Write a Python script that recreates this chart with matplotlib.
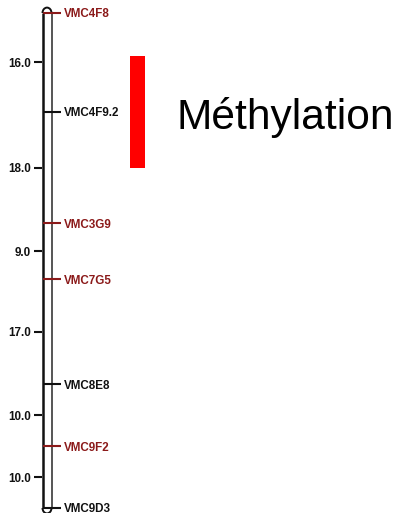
import matplotlib
matplotlib.use("Agg")
import matplotlib.pyplot as plt
from matplotlib.patches import Arc, Rectangle

plt.rcParams['font.family'] = ['Liberation Sans', 'DejaVu Sans']

# Data
markers = ["VMC4F8", "VMC4F9.2", "VMC3G9", "VMC7G5", "VMC8E8", "VMC9F2", "VMC9D3"]
intervals = [16.0, 18.0, 9.0, 17.0, 10.0, 10.0]
highlighted = [True, False, True, True, False, True, False]
qtl_name = "Méthylation"
qtl_start, qtl_end = 7.0, 25.0

positions = [0.0]
for d in intervals:
    positions.append(positions[-1] + d)
total = positions[-1]

W, H = 397, 513
fig = plt.figure(figsize=(W / 100, H / 100), dpi=100)
ax = fig.add_axes([0, 0, 1, 1])
px_per_cm = 495 / total
top_px = 13
ax.set_xlim(0, W)
ax.set_ylim((H - top_px) / px_per_cm, -top_px / px_per_cm)
ax.axis('off')

# chromosome
xl, xr = 42.5, 51.5
ax.plot([xl, xl], [0, total], color='#111111', lw=1.8, solid_capstyle='butt')
ax.plot([xr, xr], [0, total], color='#555555', lw=1.4, solid_capstyle='butt')
cw = xr - xl
ch = cw / px_per_cm
# y axis is inverted: theta 180..360 draws upward on screen
ax.add_patch(Arc(((xl + xr) / 2, 0), cw, ch * 1.2, theta1=180, theta2=360,
                 color='#111111', lw=1.4))
ax.add_patch(Arc(((xl + xr) / 2, total), cw, ch * 1.2, theta1=0, theta2=180,
                 color='#111111', lw=1.4))

dark_red = '#8B1A1A'
for name, pos, hl in zip(markers, positions, highlighted):
    c = dark_red if hl else '#111111'
    ax.plot([43, 61], [pos, pos], color=c, lw=1.5, solid_capstyle='butt')
    ax.text(64, pos, name, color=c, fontsize=8.4, fontweight='bold',
            ha='left', va='center_baseline')

for i, d in enumerate(intervals):
    mid = (positions[i] + positions[i + 1]) / 2
    ax.plot([34, 42], [mid, mid], color='#111111', lw=1.5, solid_capstyle='butt')
    ax.text(31, mid, f"{d:.1f}", color='#111111', fontsize=8.4, fontweight='bold',
            ha='right', va='center_baseline')

# QTL bar
ax.add_patch(Rectangle((130, qtl_start), 15, qtl_end - qtl_start,
                       facecolor='#FF0000', edgecolor='none'))
ax.text(176, (qtl_start + qtl_end) / 2 + 2.75, qtl_name, fontsize=30.6,
        color='black', ha='left', va='baseline')

fig.savefig("out.png", dpi=100)
